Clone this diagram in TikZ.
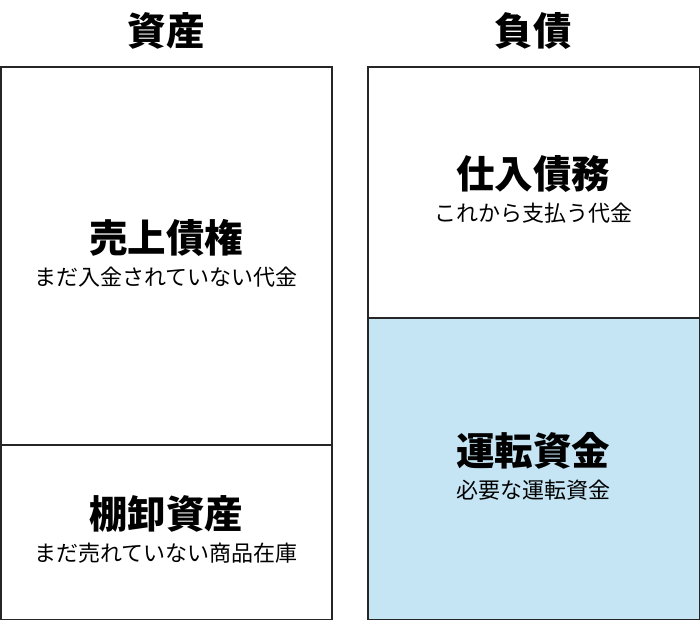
\documentclass[tikz,border=0pt]{standalone}
\usepackage{fontspec}
\setmainfont{Noto Sans CJK JP}
\usepackage{tikz}
\usetikzlibrary{positioning}
\definecolor{capblue}{RGB}{197,229,244}

\begin{document}
\begin{tikzpicture}[x=1pt,y=-1pt,
        part/.style={draw=black!85,line width=1.5pt,inner sep=0pt},
        title/.style={font=\fontsize{38.5}{42}\selectfont\bfseries},
        head/.style={font=\fontsize{38.5}{42}\selectfont\bfseries},
        sub/.style={font=\fontsize{22}{26}\selectfont}]
        \useasboundingbox (0,0) rectangle (700,620);

        \node[title] (Assets) at (166,31) {資産};
        \node[title] (Debts) at (533,31) {負債};

        \draw[part] (0.75,67) rectangle (332,445);
        \coordinate (AR) at (166,256);
        \draw[part] (0.75,445) rectangle (332,619.25);
        \coordinate (Stock) at (166,532);
        \draw[part] (368,67) rectangle (699.25,318);
        \coordinate (AP) at (533,192);
        \draw[part,fill=capblue] (368,318) rectangle (699.25,619.25);
        \coordinate (Capital) at (533,469);

        \node[head] (ARhead) at ([yshift=18pt]AR) {売上債権};
        \node[sub] (ARsub) at ([yshift=-21pt]AR) {まだ入金されていない代金};
        \node[head] (Stockhead) at ([yshift=18pt]Stock) {棚卸資産};
        \node[sub] (Stocksub) at ([yshift=-21pt]Stock) {まだ売れていない商品在庫};
        \node[head] (APhead) at ([yshift=18pt]AP) {仕入債務};
        \node[sub] (APsub) at ([yshift=-21pt]AP) {これから支払う代金};
        \node[head] (Capitalhead) at ([yshift=18pt]Capital) {運転資金};
        \node[sub] (Capitalsub) at ([yshift=-21pt]Capital) {必要な運転資金};

    \end{tikzpicture}
\end{document}
